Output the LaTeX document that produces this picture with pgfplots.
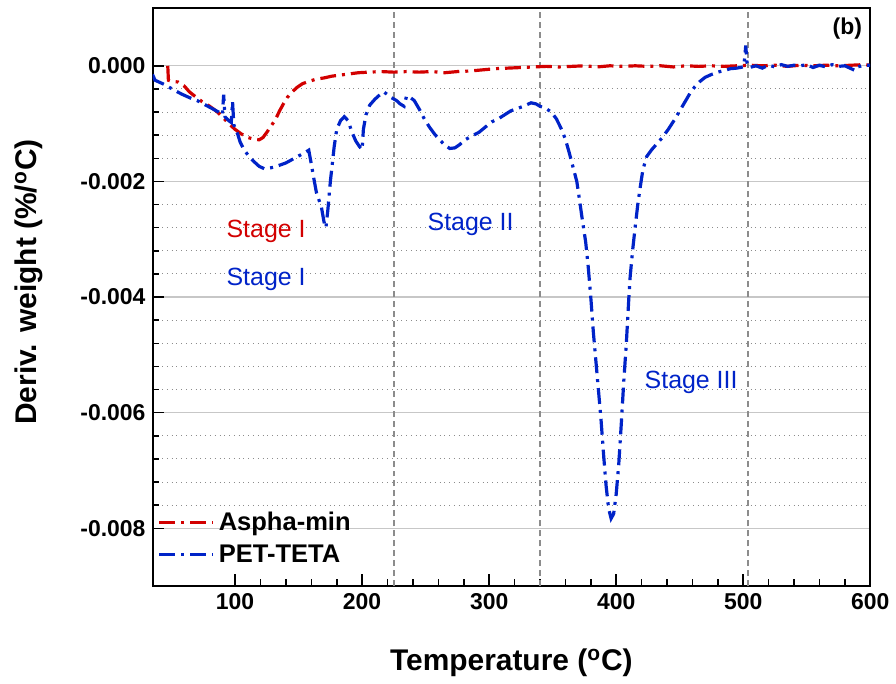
\documentclass[border=0pt]{standalone}
\usepackage{fontspec}
\setmainfont{Liberation Sans}
\usepackage{pgfplots}
\pgfplotsset{compat=1.18}
\definecolor{cred}{RGB}{210,0,0}
\definecolor{cblue}{RGB}{0,35,200}
\begin{document}
\begin{tikzpicture}
\begin{axis}[
  scale only axis, width=360pt, height=290pt,
  xmin=35, xmax=600, ymin=-0.009, ymax=0.001,
  xtick={100,200,300,400,500,600}, minor x tick num=4,
  ytick={-0.008,-0.006,-0.004,-0.002,0}, minor y tick num=4,
  tick align=inside, tick pos=left,
  major tick length=6pt, minor tick length=3.5pt,
  axis line style={line width=1pt},
  every tick/.style={black, line width=0.8pt},
  ymajorgrids, yminorgrids,
  major grid style={black!22, line width=0.7pt, solid},
  minor grid style={black!45, dotted, line width=0.5pt},
  scaled y ticks=false,
  y tick label style={/pgf/number format/.cd, fixed, fixed zerofill, precision=3},
  /pgf/number format/assume math mode=true,
  ticklabel style={font=\bfseries\fontsize{11.5}{13}\selectfont},
  xlabel={Temperature (\textsuperscript{o}C)},
  ylabel={Deriv. weight (\%/\textsuperscript{o}C)},
  label style={font=\bfseries\fontsize{15}{17}\selectfont},
  xlabel style={at={(axis description cs:0.5,-0.133)}, anchor=center},
  ylabel style={at={(axis description cs:-0.172,0.526)}, anchor=center},
  legend style={at={(axis description cs:0.004,0.022)}, anchor=south west, draw=none, fill=none,
    font=\bfseries\fontsize{12.8}{14}\selectfont, row sep=1.5pt, inner xsep=1pt},
  legend cell align=left,
  legend image code/.code={\draw[#1] (0pt,0pt) -- (27pt,0pt);},
]
\addplot[forget plot, black!45, line width=0.8pt, dash pattern=on 3pt off 2pt] coordinates {(225,-0.009) (225,0.001)};
\addplot[forget plot, black!45, line width=0.8pt, dash pattern=on 3pt off 2pt] coordinates {(340,-0.009) (340,0.001)};
\addplot[forget plot, black!45, line width=0.8pt, dash pattern=on 3pt off 2pt] coordinates {(504,-0.009) (504,0.001)};

\addplot[cred, line width=1.6pt, dash pattern=on 8pt off 3pt on 1.5pt off 3pt] coordinates {
(47,0.00000) (47.5,-0.00025) (50,-0.00027) (55,-0.00028) (60,-0.00035) (64,-0.00045)
(68,-0.00052) (74,-0.00062) (80,-0.00070) (85,-0.00078) (90,-0.00088) (95,-0.00100)
(100,-0.00110) (105,-0.00118) (110,-0.00124) (115,-0.00127) (119,-0.00128) (122,-0.00124)
(125,-0.00115) (129,-0.00102) (132,-0.00092) (135,-0.00078) (138,-0.00066) (141,-0.00055)
(145,-0.00045) (149,-0.00037) (153,-0.00031) (158,-0.00027) (164,-0.00023) (170,-0.00021)
(176,-0.00018) (183,-0.00016) (190,-0.00014) (197,-0.00012) (205,-0.00011) (215,-0.00010)
(225,-0.00011) (235,-0.00010) (245,-0.00011) (255,-0.00010) (265,-0.00012) (275,-0.00010)
(285,-0.00009) (295,-0.00007) (305,-0.00005) (315,-0.00004) (325,-0.00003) (335,-0.00002)
(345,-0.00001) (355,-0.00002) (365,-0.00001) (375,0.00000) (385,-0.00002) (395,0.00000)
(405,-0.00001) (415,0.00000) (425,-0.00001) (435,0.00000) (445,-0.00002) (455,0.00000)
(465,-0.00001) (475,0.00000) (485,-0.00001) (495,0.00000) (505,0.00001) (515,0.00000)
(525,0.00001) (535,-0.00001) (545,0.00001) (555,0.00000) (565,0.00001) (575,0.00000)
(585,0.00001) (595,0.00002) (600,0.00001)
};
\addlegendentry{Aspha-min}

\addplot[cblue, line width=1.6pt, dash pattern=on 8pt off 3pt on 1.5pt off 3pt] coordinates {
(35,-0.00015) (37,-0.00025) (40,-0.00028) (44,-0.00032) (48,-0.00037) (52,-0.00042)
(58,-0.00049) (64,-0.00055) (70,-0.00060) (76,-0.00067) (82,-0.00074) (87,-0.00080)
(90,-0.00085) (91,-0.00050) (92,-0.00088) (95,-0.00095) (97,-0.00098) (98,-0.00062)
(99,-0.00102) (102,-0.00118) (104,-0.00132) (107,-0.00145) (111,-0.00157) (115,-0.00166)
(119,-0.00174) (123,-0.00178) (127,-0.00177) (131,-0.00175) (135,-0.00172) (140,-0.00168)
(145,-0.00162) (150,-0.00156) (155,-0.00150) (158,-0.00146) (160,-0.00170) (162,-0.00195)
(164,-0.00219) (166,-0.00232) (168,-0.00245) (170,-0.00270) (171.5,-0.00280) (173,-0.00250)
(174,-0.00225) (175,-0.00200) (176,-0.00180) (178,-0.00140) (180,-0.00110) (183,-0.00095)
(186,-0.00088) (189,-0.00095) (192,-0.00115) (195,-0.00130) (198,-0.00140) (200,-0.00145)
(201,-0.00110) (203,-0.00085) (206,-0.00068) (210,-0.00058) (214,-0.00050) (217,-0.00045)
(220,-0.00050) (223,-0.00055) (227,-0.00060) (230,-0.00066) (233,-0.00070) (235,-0.00052)
(238,-0.00055) (241,-0.00060) (245,-0.00075) (249,-0.00092) (253,-0.00106) (257,-0.00118)
(261,-0.00128) (265,-0.00137) (269,-0.00143) (273,-0.00142) (277,-0.00136) (281,-0.00128)
(286,-0.00122) (292,-0.00115) (297,-0.00106) (302,-0.00097) (307,-0.00092) (312,-0.00085)
(317,-0.00078) (322,-0.00074) (327,-0.00070) (333,-0.00064) (337,-0.00066) (340,-0.00070)
(344,-0.00073) (349,-0.00080) (353,-0.00092) (357,-0.00110) (360,-0.00127) (363,-0.00150)
(366,-0.00175) (369,-0.00200) (371,-0.00230) (373,-0.00261) (376,-0.00305) (378,-0.00348)
(380,-0.00400) (382,-0.00460) (384,-0.00510) (386,-0.00560) (388,-0.00610) (390,-0.00670)
(392,-0.00725) (394,-0.00765) (396,-0.00783) (398,-0.00775) (400,-0.00741) (402,-0.00690)
(404,-0.00620) (406,-0.00545) (408,-0.00480) (410,-0.00400) (411,-0.00365) (413,-0.00318)
(415,-0.00278) (417,-0.00240) (419,-0.00209) (421,-0.00180) (424,-0.00157) (428,-0.00145)
(432,-0.00135) (436,-0.00125) (441,-0.00110) (446,-0.00093) (450,-0.00078) (454,-0.00063)
(458,-0.00048) (462,-0.00036) (466,-0.00027) (470,-0.00020) (475,-0.00015) (480,-0.00011)
(485,-0.00008) (490,-0.00005) (495,-0.00004) (500,-0.00002) (501,0.00010) (502,0.00035)
(503,0.00005) (505,-0.00003) (510,0.00000) (515,-0.00004) (520,0.00001) (525,-0.00002)
(530,0.00002) (535,-0.00001) (540,0.00001) (545,0.00000) (550,0.00002) (555,-0.00003)
(560,0.00001) (565,-0.00002) (570,0.00002) (575,-0.00001) (580,0.00000) (585,-0.00005)
(588,-0.00008) (590,-0.00002) (595,0.00001) (600,0.00001)
};
\addlegendentry{PET-TETA}

\node[cred, font=\fontsize{12.5}{14}\selectfont] at (axis cs:124.4,-0.00287) {Stage I};
\node[cblue, font=\fontsize{12.5}{14}\selectfont] at (axis cs:124.4,-0.0037) {Stage I};
\node[cblue, font=\fontsize{12.5}{14}\selectfont] at (axis cs:285.4,-0.00275) {Stage II};
\node[cblue, font=\fontsize{12.5}{14}\selectfont] at (axis cs:459,-0.00548) {Stage III};
\node[font=\bfseries\fontsize{11.5}{13}\selectfont] at (axis cs:581.9,0.00064) {(b)};
\end{axis}
\path ([xshift=-76.5pt,yshift=-48.5pt]current axis.south west) rectangle ([xshift=11.5pt,yshift=4pt]current axis.north east);
\end{tikzpicture}
\end{document}
